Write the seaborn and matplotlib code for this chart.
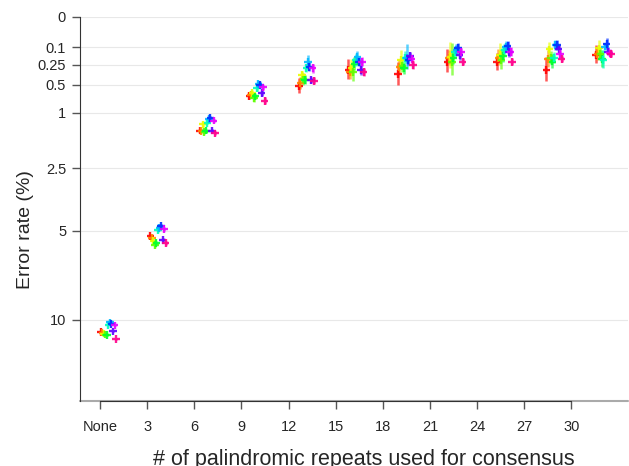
import numpy as np
import pandas as pd
import matplotlib
matplotlib.use("Agg")
import matplotlib.pyplot as plt
import seaborn as sns

# repeats used for consensus (x categories)
groups = ["None", "3", "6", "9", "12", "15", "18", "21", "24", "27", "30"]
samples = ["s%d" % i for i in range(1, 12)]
colors = ["#FF0000", "#FF8B00", "#E8FF00", "#5DFF00", "#00FF2E", "#00FFB9",
          "#00B9FF", "#002EFF", "#5D00FF", "#E800FF", "#FF008B"]

# error rate (%) per group, one value per sample
rate_none = [10.83, 10.87, 10.94, 11.01, 11.04, 10.34, 10.18, 10.31, 10.79, 10.38, 11.32]
rate_3 = [5.24, 5.33, 5.48, 5.68, 5.58, 4.95, 4.86, 4.77, 5.43, 4.91, 5.58]
rate_6 = [1.41, 1.42, 1.26, 1.44, 1.41, 1.22, 1.14, 1.12, 1.41, 1.17, 1.48]
rate_9 = [0.68, 0.66, 0.635, 0.72, 0.69, 0.555, 0.49, 0.505, 0.635, 0.54, 0.765]
rate_12 = [0.52, 0.48, 0.367, 0.424, 0.433, 0.287, 0.218, 0.27, 0.433, 0.287, 0.447]
rate_15 = [0.307, 0.33, 0.284, 0.33, 0.241, 0.202, 0.175, 0.221, 0.307, 0.221, 0.33]
rate_18 = [0.358, 0.27, 0.202, 0.259, 0.287, 0.181, 0.186, 0.202, 0.164, 0.193, 0.252]
rate_21 = [0.221, 0.184, 0.175, 0.221, 0.184, 0.134, 0.119, 0.105, 0.158, 0.134, 0.221]
rate_24 = [0.221, 0.184, 0.158, 0.202, 0.166, 0.119, 0.098, 0.092, 0.134, 0.134, 0.221]
rate_27 = [0.307, 0.195, 0.114, 0.186, 0.218, 0.184, 0.086, 0.086, 0.114, 0.149, 0.195]
rate_30 = [0.158, 0.149, 0.107, 0.149, 0.195, 0.202, 0.096, 0.080, 0.131, 0.144, 0.149]

# error bar half widths
err_none = [0.06, 0.05, 0.05, 0.06, 0.05, 0.05, 0.06, 0.05, 0.05, 0.05, 0.06]
err_3 = [0.12, 0.1, 0.1, 0.12, 0.1, 0.08, 0.08, 0.08, 0.1, 0.08, 0.1]
err_6 = [0.05, 0.05, 0.05, 0.06, 0.05, 0.04, 0.05, 0.04, 0.05, 0.04, 0.05]
err_9 = [0.05, 0.05, 0.05, 0.06, 0.05, 0.04, 0.04, 0.04, 0.05, 0.04, 0.07]
err_12 = [0.11, 0.086, 0.05, 0.085, 0.06, 0.045, 0.06, 0.044, 0.04, 0.05, 0.05]
err_15 = [0.116, 0.09, 0.09, 0.12, 0.07, 0.056, 0.05, 0.045, 0.06, 0.045, 0.045]
err_18 = [0.14, 0.081, 0.085, 0.075, 0.067, 0.053, 0.108, 0.047, 0.034, 0.036, 0.042]
err_21 = [0.108, 0.063, 0.105, 0.147, 0.054, 0.038, 0.04, 0.034, 0.04, 0.03, 0.035]
err_24 = [0.08, 0.07, 0.083, 0.09, 0.06, 0.04, 0.035, 0.03, 0.04, 0.035, 0.035]
err_27 = [0.135, 0.078, 0.046, 0.06, 0.07, 0.05, 0.03, 0.03, 0.03, 0.03, 0.025]
err_30 = [0.075, 0.05, 0.05, 0.05, 0.075, 0.08, 0.025, 0.03, 0.03, 0.03, 0.03]

rates = [rate_none, rate_3, rate_6, rate_9, rate_12, rate_15, rate_18, rate_21, rate_24, rate_27, rate_30]
errs = [err_none, err_3, err_6, err_9, err_12, err_15, err_18, err_21, err_24, err_27, err_30]

rows = []
for k, g in enumerate(groups):
    for i, s in enumerate(samples):
        # points drift a little right of the tick and are dodged per sample
        rows.append({"group": g, "sample": s, "x": k * 1.05 + 0.02 + i * 0.032,
                     "rate": rates[k][i], "err": errs[k][i], "color": colors[i]})
df = pd.DataFrame(rows)

sns.set_style("white")
plt.rcParams["font.family"] = ["Liberation Sans", "DejaVu Sans"]

fig = plt.figure(figsize=(6.29, 4.66), dpi=100)
ax = fig.add_axes([80 / 629, 1 - 401 / 466, 548 / 629, 384 / 466])

ax.set_yscale("function", functions=(lambda v: np.sqrt(np.clip(v, 0, None)), np.square))

ax.vlines(df["x"], df["rate"] - df["err"], df["rate"] + df["err"],
          colors=df["color"], lw=1.8, alpha=0.65, zorder=3)
sns.scatterplot(data=df, x="x", y="rate", hue="sample", palette=colors,
                marker="+", s=30, linewidth=1.7, alpha=0.9, legend=False, ax=ax, zorder=4)

yticks = [0, 0.1, 0.25, 0.5, 1, 2.5, 5, 10]
ax.set_yticks(yticks)
ax.set_yticklabels(["0", "0.1", "0.25", "0.5", "1", "2.5", "5", "10"])
ax.set_ylim(16.1, 0)
ax.set_xticks(range(len(groups)))
ax.set_xticklabels(groups)
ax.set_xlim(-0.424, 11.2)
ax.set_xlabel("")
ax.set_ylabel("")

ax.yaxis.grid(True, color="#e8e8e8", lw=0.8)
ax.set_axisbelow(True)

for side in ["top", "right"]:
    ax.spines[side].set_visible(False)
ax.spines["left"].set_color("#333333")
ax.spines["bottom"].set_color("#333333")
ax.spines["bottom"].set_bounds(0, 10)
ax.axhline(16.1, color="#aaaaaa", lw=1.5, clip_on=False, zorder=1)

ax.tick_params(axis="both", bottom=True, left=True, length=6, width=1,
               color="#555555", labelsize=10.5, pad=4)
ax.tick_params(axis="x", pad=8)

fig.text(25 / 629, 1 - 230 / 466, "Error rate (%)", fontsize=14, rotation=90,
         ha="center", va="center")
fig.text(364 / 629, 1 - 459 / 466, "# of palindromic repeats used for consensus",
         fontsize=15.5, ha="center", va="center")

fig.savefig("out.png", dpi=100)
